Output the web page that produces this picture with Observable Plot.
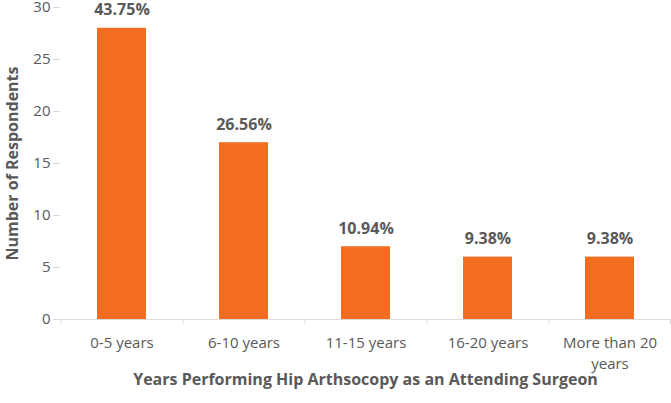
<!DOCTYPE html>
<html>
<head>
<meta charset="utf-8">
<script src="https://cdn.jsdelivr.net/npm/d3@7"></script>
<script src="https://cdn.jsdelivr.net/npm/@observablehq/plot@0.6"></script>
<style>
  html, body { margin: 0; padding: 0; background: #fff; }
  #chart { width: 671px; height: 403px; }
</style>
</head>
<body>
<div id="chart"></div>
<script>
const categories = ["0-5 years", "6-10 years", "11-15 years", "16-20 years", "More than 20\nyears"];
const respondents = [28, 17, 7, 6, 6];
const percentLabels = ["43.75%", "26.56%", "10.94%", "9.38%", "9.38%"];
const yTicks = [0, 5, 10, 15, 20, 25, 30];
const xTitle = "Years Performing Hip Arthsocopy as an Attending Surgeon";
const yTitle = "Number of Respondents";

const data = categories.map((c, i) => ({cat: c, value: respondents[i], label: percentLabels[i]}));

const W = 671, H = 403, mL = 60, mR = 1, mT = 7, mB = 84;
const band = (W - mL - mR) / categories.length;
const gray = "#595959";
const axisGray = "#d9d9d9";
const orange = "#F26D21";
const font = "'Open Sans', sans-serif";

const plot = Plot.plot({
  width: W,
  height: H,
  marginLeft: mL,
  marginRight: mR,
  marginTop: mT,
  marginBottom: mB,
  style: {fontFamily: font, color: gray, background: "#fff", overflow: "visible"},
  x: {domain: categories, paddingInner: 0.6, paddingOuter: 0.3, align: 0.5, label: null},
  y: {domain: [0, 30], label: null},
  marks: [
    Plot.barY(data, {x: "cat", y: "value", fill: orange}),
    Plot.ruleY([0], {stroke: axisGray, strokeWidth: 1}),
    Plot.ruleX(categories, {x: d => d, dx: -band / 2, y1: 0, y2: -0.5, stroke: axisGray}),
    Plot.ruleX([categories[categories.length - 1]], {x: d => d, dx: band / 2 - 0.5, y1: 0, y2: -0.5, stroke: axisGray}),
    Plot.axisY({ticks: yTicks, tickSize: 7, tickPadding: 3, stroke: axisGray, fill: gray, fontSize: 15, line: true, label: null}),
    Plot.axisX({tickSize: 0, tickPadding: 14, fill: gray, fontSize: 15, lineHeight: 1.4, label: null}),
    Plot.text(data, {x: "cat", y: "value", text: "label", dy: -13, lineAnchor: "bottom", fill: gray, fontSize: 16, fontWeight: "bold"}),
    Plot.text([xTitle], {frameAnchor: "bottom", dy: 65, textAnchor: "middle", text: d => d, fill: gray, fontSize: 16, fontWeight: "bold"}),
    Plot.text([yTitle], {frameAnchor: "left", dx: -48, rotate: -90, textAnchor: "middle", text: d => d, fill: gray, fontSize: 16, fontWeight: "bold"})
  ]
});
document.getElementById("chart").appendChild(plot);
</script>
</body>
</html>
